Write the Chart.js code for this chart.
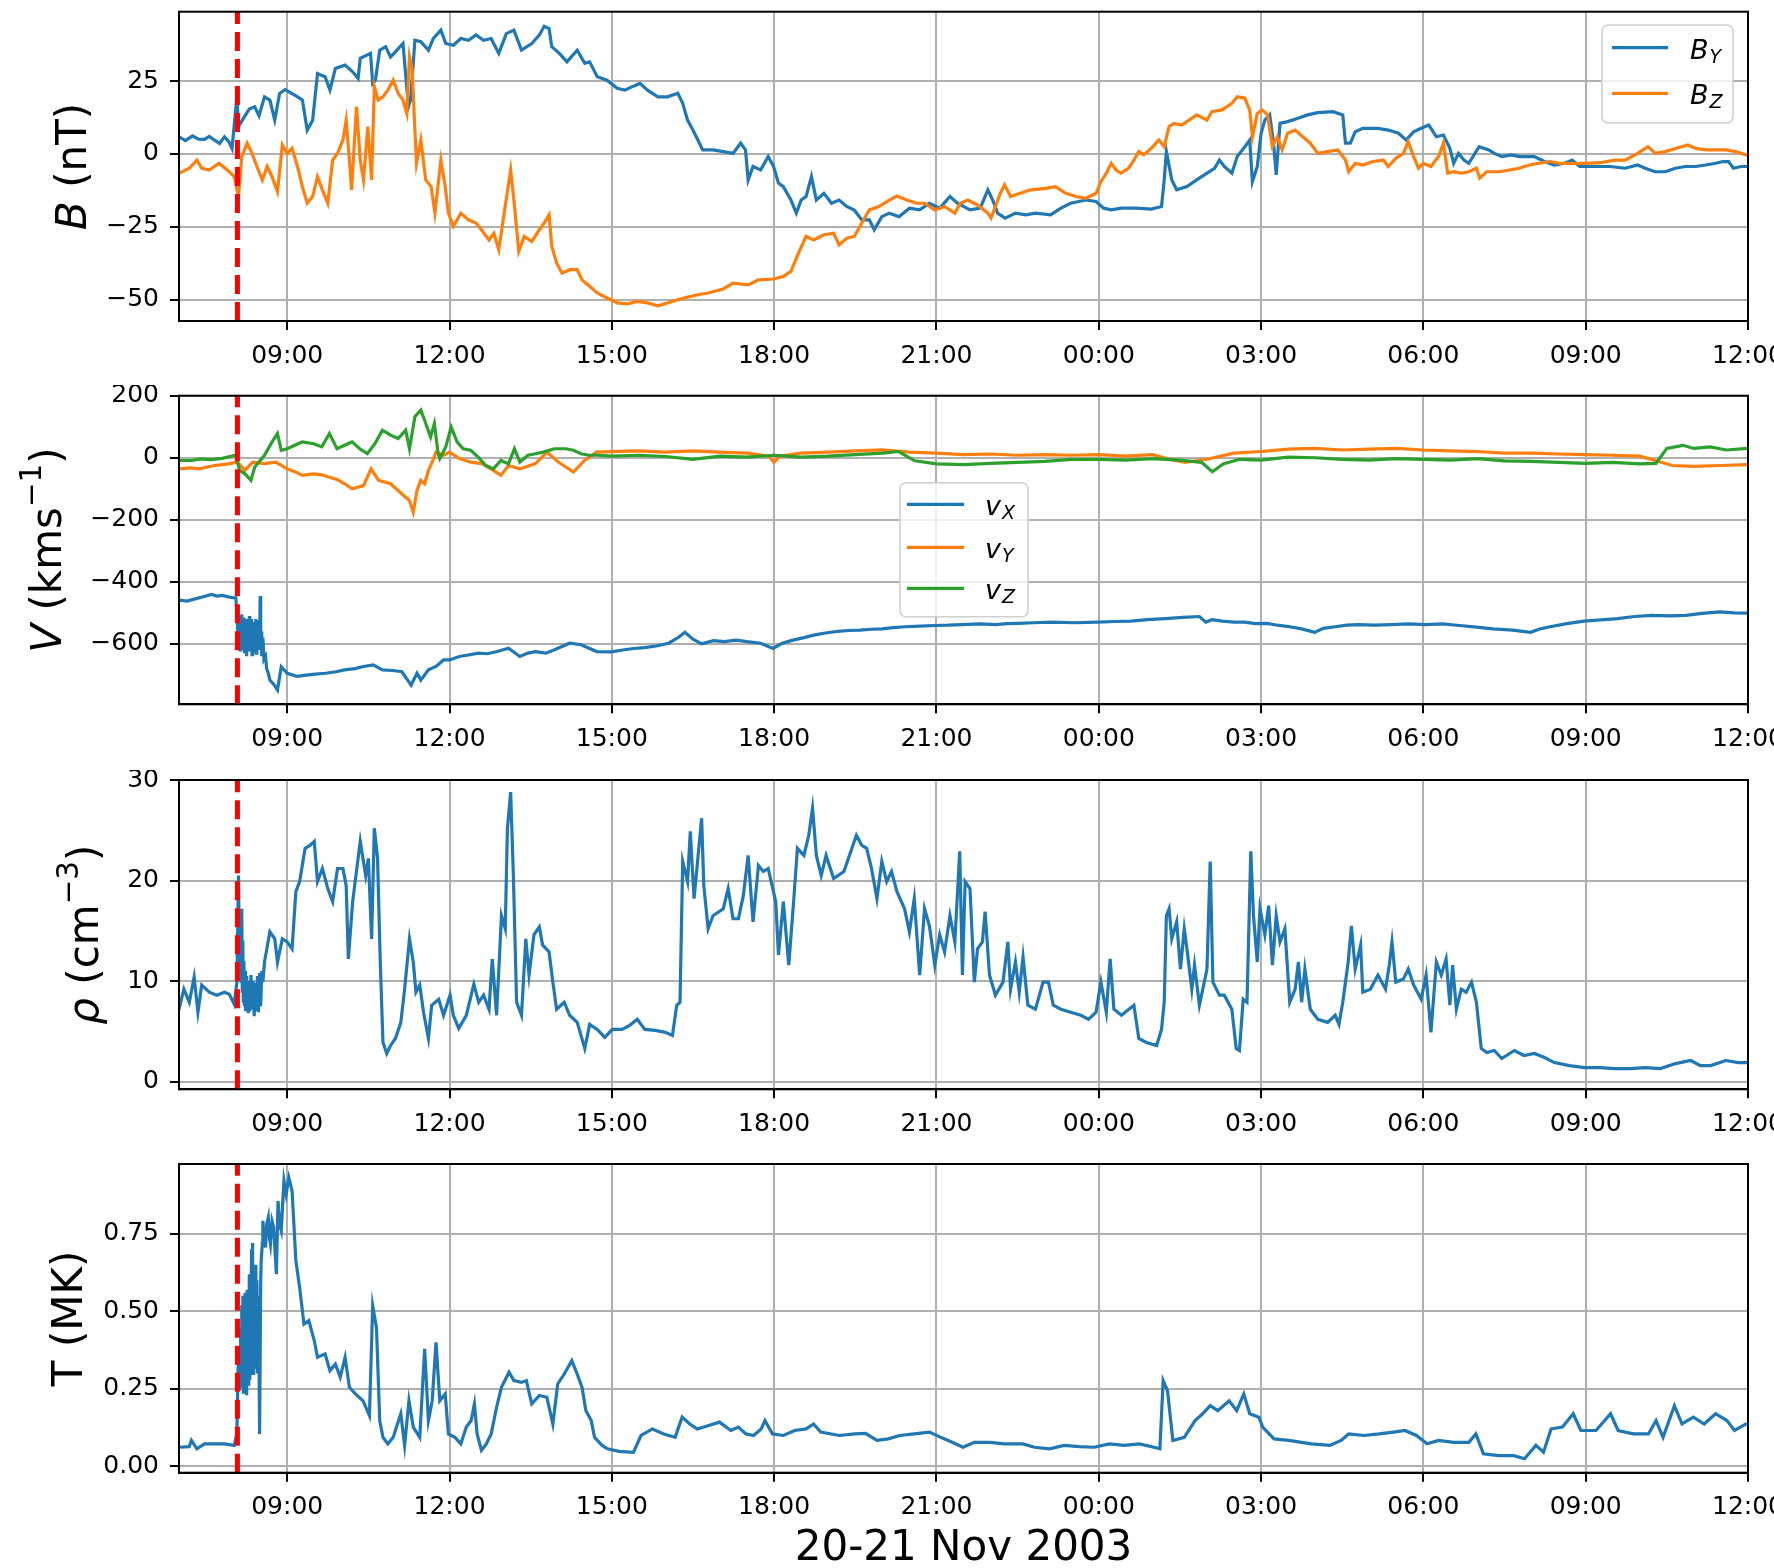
<!DOCTYPE html>
<html><head><meta charset="utf-8">
<script src="https://cdn.jsdelivr.net/npm/chart.js@4.4.1/dist/chart.umd.min.js"></script>
<style>
html,body{margin:0;padding:0;background:#fff;width:1774px;height:1568px;overflow:hidden;}
canvas{position:absolute;left:0;}
</style></head><body>
<canvas id="c1" width="1774" height="385" style="top:0px"></canvas>
<canvas id="c2" width="1774" height="385" style="top:385px"></canvas>
<canvas id="c3" width="1774" height="385" style="top:770px"></canvas>
<canvas id="c4" width="1774" height="413" style="top:1155px"></canvas>
<script>
// ---- time axis (hours since 00:00 20 Nov 2003) ----
const timeRange = [7, 36];
const tickHours = [9, 12, 15, 18, 21, 24, 27, 30, 33, 36];
const tickLabels = ['09:00','12:00','15:00','18:00','21:00','00:00','03:00','06:00','09:00','12:00'];
const shockTime = 8.08;
const xTitle = '20-21 Nov 2003';

// ---- panel 1: magnetic field (nT) ----
const bTicks = [-50, -25, 0, 25];
const bTickLabels = ['\u221250', '\u221225', '0', '25'];
const bY = [[7.00,5.9],[7.12,4.6],[7.25,6.2],[7.36,5.1],[7.47,5.0],[7.56,6.0],[7.65,4.8],[7.75,3.6],[7.84,5.9],[7.92,4.2],[7.98,1.9],[8.07,19.6],[8.10,9.4],[8.21,12.8],[8.30,15.4],[8.40,16.2],[8.48,13.1],[8.58,19.6],[8.68,18.5],[8.77,11.6],[8.86,20.8],[8.96,22.1],[9.14,20.2],[9.28,18.5],[9.37,8.2],[9.47,11.6],[9.56,27.6],[9.70,26.5],[9.79,21.9],[9.89,29.3],[10.07,30.5],[10.21,28.2],[10.31,25.9],[10.35,32.8],[10.54,34.5],[10.58,24.2],[10.63,25.3],[10.71,35.6],[10.82,36.8],[10.91,33.3],[11.00,35.0],[11.14,37.9],[11.24,16.2],[11.28,18.5],[11.36,39.0],[11.47,38.5],[11.61,35.6],[11.70,39.6],[11.84,42.5],[11.93,37.9],[12.07,37.3],[12.21,39.6],[12.35,39.0],[12.49,40.8],[12.63,39.0],[12.77,39.6],[12.91,34.5],[13.05,41.3],[13.19,42.5],[13.33,35.6],[13.52,37.9],[13.66,40.8],[13.75,43.8],[13.84,43.0],[13.89,36.8],[14.03,34.5],[14.17,31.6],[14.36,35.6],[14.50,31.1],[14.59,31.6],[14.73,26.5],[14.91,25.3],[15.10,22.5],[15.24,21.9],[15.38,23.1],[15.52,24.2],[15.66,21.9],[15.85,19.6],[16.03,19.6],[16.22,20.8],[16.31,17.4],[16.40,11.6],[16.50,8.2],[16.59,4.8],[16.68,1.4],[16.87,1.4],[17.06,0.8],[17.24,0.2],[17.38,3.7],[17.47,1.4],[17.52,-8.9],[17.61,-4.3],[17.75,-5.5],[17.89,-0.9],[17.99,-4.3],[18.08,-10.0],[18.17,-11.2],[18.31,-15.8],[18.41,-20.3],[18.50,-15.8],[18.59,-14.6],[18.69,-7.8],[18.78,-15.8],[18.92,-13.5],[19.06,-16.9],[19.20,-15.8],[19.34,-18.0],[19.48,-19.2],[19.62,-22.6],[19.76,-22.6],[19.85,-26.0],[19.99,-21.5],[20.13,-20.3],[20.31,-21.5],[20.50,-18.6],[20.69,-19.2],[20.87,-16.9],[21.06,-18.6],[21.25,-14.6],[21.39,-16.9],[21.62,-19.2],[21.81,-18.6],[21.95,-12.3],[22.04,-15.8],[22.13,-20.3],[22.27,-22.0],[22.46,-20.3],[22.65,-20.9],[22.83,-20.3],[23.11,-20.9],[23.30,-18.6],[23.48,-16.9],[23.76,-15.8],[23.95,-16.3],[24.09,-18.6],[24.23,-19.2],[24.42,-18.6],[24.69,-18.6],[24.97,-18.9],[25.16,-18.0],[25.21,-8.9],[25.25,0.8],[25.35,-8.9],[25.44,-12.3],[25.63,-11.2],[25.81,-8.9],[26.00,-6.6],[26.14,-4.9],[26.23,-2.1],[26.32,-4.3],[26.46,-6.6],[26.56,-0.9],[26.70,2.5],[26.79,4.8],[26.84,-9.5],[26.93,-4.3],[27.00,7.1],[27.07,11.6],[27.16,13.4],[27.23,3.7],[27.28,-7.2],[27.35,10.5],[27.49,11.1],[27.67,12.2],[27.86,13.4],[28.05,14.2],[28.33,14.5],[28.51,13.4],[28.56,3.7],[28.65,3.7],[28.74,7.6],[28.88,8.8],[29.16,8.8],[29.35,8.2],[29.54,7.1],[29.68,4.8],[29.82,7.6],[29.96,8.8],[30.10,9.9],[30.24,5.9],[30.37,6.5],[30.49,1.9],[30.56,-3.2],[30.65,0.2],[30.75,-2.1],[30.84,-3.2],[31.03,2.5],[31.21,1.4],[31.31,0.2],[31.45,-0.9],[31.63,-0.3],[31.77,-0.9],[32.05,-0.9],[32.24,-2.6],[32.42,-3.8],[32.61,-3.2],[32.75,-2.1],[32.89,-4.3],[33.17,-4.3],[33.45,-4.3],[33.73,-4.9],[33.96,-3.8],[34.10,-4.9],[34.28,-6.1],[34.47,-6.1],[34.66,-4.9],[34.84,-4.3],[35.03,-4.3],[35.22,-3.8],[35.40,-3.2],[35.54,-2.6],[35.64,-2.6],[35.73,-4.9],[35.87,-4.3],[36.00,-4.3]];
const bZ = [[7.00,-6.6],[7.19,-4.9],[7.33,-2.1],[7.42,-4.9],[7.56,-5.5],[7.74,-3.2],[7.93,-6.1],[8.02,-7.8],[8.10,-14.6],[8.16,-0.9],[8.26,3.7],[8.35,0.2],[8.44,-4.3],[8.54,-8.9],[8.63,-4.3],[8.72,-7.8],[8.82,-12.9],[8.91,3.1],[9.00,0.2],[9.09,1.9],[9.19,-4.3],[9.28,-11.2],[9.37,-16.9],[9.47,-14.6],[9.56,-7.8],[9.65,-12.3],[9.75,-16.9],[9.84,-2.1],[9.93,0.2],[10.03,4.8],[10.09,11.6],[10.15,-2.1],[10.19,-12.3],[10.28,16.2],[10.35,-2.1],[10.41,-8.9],[10.49,9.4],[10.56,-8.9],[10.61,23.1],[10.68,18.5],[10.77,19.6],[10.86,21.9],[10.96,25.3],[11.05,20.8],[11.14,18.5],[11.21,13.9],[11.26,33.3],[11.31,28.8],[11.36,8.2],[11.39,-3.2],[11.47,4.8],[11.56,-8.9],[11.66,-11.2],[11.73,-20.3],[11.84,-2.1],[11.92,-11.2],[11.98,-20.3],[12.07,-24.9],[12.21,-20.3],[12.35,-22.6],[12.49,-23.7],[12.59,-26.0],[12.73,-29.5],[12.82,-27.2],[12.91,-32.9],[13.01,-20.3],[13.13,-5.5],[13.19,-15.8],[13.28,-33.4],[13.38,-28.3],[13.52,-30.0],[13.66,-26.0],[13.75,-23.7],[13.84,-20.9],[13.89,-31.7],[13.98,-37.4],[14.08,-40.9],[14.22,-39.7],[14.36,-39.7],[14.45,-43.2],[14.59,-45.4],[14.73,-47.7],[14.91,-49.4],[15.10,-51.1],[15.29,-51.4],[15.47,-50.6],[15.66,-51.1],[15.85,-52.1],[16.03,-51.1],[16.22,-50.0],[16.40,-49.1],[16.59,-48.3],[16.78,-47.7],[17.06,-46.3],[17.24,-44.3],[17.52,-44.9],[17.71,-43.2],[17.99,-42.9],[18.17,-42.0],[18.31,-40.3],[18.45,-34.0],[18.59,-28.3],[18.73,-29.5],[18.92,-27.7],[19.10,-27.2],[19.20,-31.2],[19.34,-28.9],[19.48,-28.3],[19.62,-23.7],[19.76,-19.2],[19.94,-18.0],[20.13,-15.8],[20.27,-14.4],[20.45,-15.8],[20.64,-16.9],[20.78,-16.9],[20.97,-19.2],[21.15,-18.0],[21.34,-20.3],[21.44,-16.9],[21.58,-15.8],[21.76,-17.5],[21.95,-20.3],[22.01,-22.0],[22.09,-18.0],[22.18,-13.5],[22.26,-10.6],[22.37,-14.6],[22.55,-13.5],[22.74,-12.3],[23.02,-11.8],[23.20,-11.2],[23.39,-13.5],[23.58,-14.6],[23.76,-15.2],[23.95,-13.5],[24.04,-9.5],[24.14,-6.6],[24.23,-3.2],[24.32,-5.5],[24.41,-6.6],[24.55,-4.9],[24.65,-2.1],[24.74,0.8],[24.83,-0.3],[24.97,1.9],[25.11,4.8],[25.21,2.5],[25.30,9.4],[25.39,10.5],[25.53,9.9],[25.67,11.6],[25.81,13.4],[26.00,11.6],[26.09,14.5],[26.28,15.1],[26.46,17.4],[26.56,19.6],[26.70,19.1],[26.79,15.1],[26.84,5.9],[26.93,13.9],[27.02,15.1],[27.12,13.4],[27.21,2.5],[27.30,5.9],[27.39,1.4],[27.49,7.1],[27.63,8.2],[27.77,5.9],[27.91,3.7],[28.05,0.2],[28.23,0.8],[28.42,1.4],[28.56,-2.1],[28.62,-6.1],[28.74,-3.2],[28.88,-3.8],[29.07,-2.6],[29.26,-2.1],[29.35,-4.3],[29.49,-1.5],[29.63,0.2],[29.72,4.2],[29.82,-0.9],[29.91,-4.9],[30.00,-3.2],[30.14,-4.3],[30.28,-0.9],[30.37,3.7],[30.45,-6.6],[30.56,-6.1],[30.70,-6.6],[30.84,-6.1],[30.98,-4.9],[31.04,-8.3],[31.17,-6.1],[31.40,-6.1],[31.59,-5.5],[31.77,-4.9],[31.96,-3.8],[32.14,-3.2],[32.33,-2.6],[32.52,-3.2],[32.70,-3.2],[32.98,-3.2],[33.26,-3.0],[33.54,-2.1],[33.73,-2.1],[33.96,0.2],[34.15,2.5],[34.29,0.2],[34.47,0.8],[34.66,1.9],[34.89,3.1],[35.03,1.9],[35.22,1.4],[35.40,1.4],[35.59,1.4],[35.77,0.8],[35.96,-0.3],[36.00,-0.3]];

// ---- panel 2: velocity (km/s) ----
const vTicks = [-600, -400, -200, 0, 200];
const vTickLabels = ['\u2212600', '\u2212400', '\u2212200', '0', '200'];
const vX = [[7.00,-459],[7.15,-462],[7.30,-455],[7.45,-448],[7.60,-441],[7.70,-446],[7.80,-444],[7.95,-450],[8.05,-452],[8.08,-530],[8.09,-580],[8.10,-520],[8.11,-600],[8.12,-510],[8.13,-620],[8.14,-525],[8.15,-590],[8.16,-505],[8.17,-615],[8.18,-530],[8.19,-600],[8.20,-515],[8.21,-630],[8.22,-535],[8.23,-610],[8.24,-520],[8.25,-640],[8.26,-540],[8.27,-620],[8.28,-525],[8.29,-600],[8.30,-510],[8.31,-625],[8.32,-545],[8.33,-605],[8.34,-520],[8.35,-635],[8.36,-540],[8.37,-610],[8.38,-530],[8.39,-625],[8.40,-550],[8.41,-600],[8.42,-520],[8.43,-630],[8.44,-545],[8.45,-615],[8.46,-525],[8.47,-620],[8.48,-540],[8.49,-610],[8.50,-446],[8.51,-600],[8.52,-560],[8.53,-640],[8.55,-580],[8.57,-650],[8.60,-640],[8.62,-680],[8.65,-695],[8.68,-717],[8.75,-730],[8.82,-749],[8.89,-674],[9.00,-695],[9.18,-705],[9.35,-701],[9.52,-698],[9.71,-695],[9.90,-690],[10.06,-684],[10.25,-680],[10.41,-673],[10.59,-668],[10.76,-684],[10.95,-686],[11.12,-690],[11.29,-733],[11.40,-695],[11.47,-717],[11.61,-684],[11.75,-673],[11.89,-652],[12.00,-652],[12.18,-641],[12.35,-636],[12.53,-630],[12.70,-632],[12.88,-625],[13.09,-614],[13.30,-641],[13.45,-630],[13.59,-625],[13.78,-630],[13.94,-619],[14.22,-598],[14.43,-603],[14.72,-625],[14.99,-626],[15.20,-620],[15.40,-615],[15.60,-612],[15.82,-607],[16.05,-598],[16.24,-578],[16.35,-563],[16.50,-585],[16.66,-600],[16.88,-590],[17.08,-593],[17.30,-588],[17.50,-593],[17.75,-598],[17.98,-615],[18.15,-598],[18.33,-589],[18.55,-580],[18.75,-571],[18.95,-565],[19.17,-560],[19.38,-557],[19.59,-556],[19.80,-553],[20.00,-552],[20.20,-548],[20.42,-545],[20.70,-543],[20.97,-541],[21.22,-540],[21.47,-538],[21.80,-536],[22.10,-538],[22.30,-535],[22.51,-534],[22.80,-532],[23.14,-530],[23.55,-532],[23.98,-530],[24.30,-528],[24.60,-527],[24.90,-522],[25.23,-519],[25.55,-515],[25.86,-512],[25.98,-530],[26.10,-522],[26.28,-527],[26.50,-530],[26.69,-530],[26.90,-535],[27.11,-534],[27.30,-540],[27.53,-545],[27.75,-552],[27.99,-563],[28.15,-550],[28.37,-545],[28.58,-540],[28.79,-538],[29.10,-540],[29.41,-538],[29.72,-536],[30.04,-538],[30.35,-536],[30.67,-541],[30.98,-546],[31.29,-552],[31.65,-556],[31.98,-563],[32.15,-552],[32.34,-545],[32.65,-535],[32.97,-527],[33.28,-523],[33.59,-519],[33.90,-512],[34.22,-508],[34.55,-510],[34.85,-508],[35.15,-502],[35.48,-497],[35.75,-500],[36.00,-501]];
const vY = [[7.02,-36],[7.20,-33],[7.38,-36],[7.52,-30],[7.66,-25],[7.80,-22],[7.94,-19],[8.08,-14],[8.22,-41],[8.36,-14],[8.58,-19],[8.79,-14],[9.00,-36],[9.14,-45],[9.28,-57],[9.49,-52],[9.64,-55],[9.78,-63],[9.92,-70],[10.06,-84],[10.20,-100],[10.41,-90],[10.55,-36],[10.69,-73],[10.91,-84],[11.12,-117],[11.26,-138],[11.33,-176],[11.40,-105],[11.47,-73],[11.54,-84],[11.61,-41],[11.68,-14],[11.75,18],[11.89,8],[12.00,18],[12.18,-3],[12.39,-14],[12.60,-19],[12.81,-41],[12.95,-57],[13.09,-25],[13.30,-36],[13.59,-19],[13.80,18],[14.01,-14],[14.29,-46],[14.50,-8],[14.72,18],[15.0,20],[15.5,22],[16.0,18],[16.5,22],[17.0,18],[17.5,15],[17.9,5],[18.0,-15],[18.1,5],[18.5,15],[19.0,18],[19.5,22],[20.0,25],[20.5,18],[21.0,15],[21.5,10],[22.0,12],[22.5,8],[23.0,10],[23.5,8],[24.0,10],[24.5,5],[25.0,10],[25.3,-5],[25.6,-15],[26.0,-5],[26.5,15],[27.0,20],[27.5,28],[28.0,30],[28.5,25],[29.0,28],[29.5,30],[30.0,25],[30.5,22],[31.0,20],[31.5,15],[32.0,15],[32.5,12],[33.0,10],[33.5,8],[34.0,5],[34.3,-10],[34.6,-25],[35.0,-28],[35.5,-25],[36.0,-22]];
const vZ = [[7.02,-9],[7.24,-9],[7.40,-4],[7.59,-6],[7.80,-2],[7.94,4],[8.05,8],[8.12,-41],[8.22,-52],[8.33,-73],[8.40,-30],[8.58,8],[8.72,51],[8.82,78],[8.89,24],[9.00,29],[9.14,40],[9.28,51],[9.49,45],[9.64,35],[9.78,78],[9.92,29],[10.06,40],[10.20,51],[10.34,29],[10.48,13],[10.62,45],[10.76,89],[10.91,73],[11.05,62],[11.19,89],[11.26,29],[11.36,132],[11.47,154],[11.54,121],[11.65,67],[11.72,110],[11.79,13],[11.82,-3],[11.93,35],[12.03,99],[12.14,51],[12.25,29],[12.39,24],[12.53,2],[12.67,-25],[12.81,-36],[12.95,-9],[13.09,-20],[13.20,29],[13.30,-14],[13.45,8],[13.59,13],[13.73,18],[13.94,29],[14.15,29],[14.29,24],[14.43,13],[14.58,8],[14.72,8],[15.0,5],[15.5,8],[16.0,4],[16.5,-5],[17.0,5],[17.5,2],[18.0,8],[18.5,2],[19.0,5],[19.5,10],[20.0,15],[20.3,20],[20.6,-10],[21.0,-20],[21.5,-22],[22.0,-18],[22.5,-15],[23.0,-12],[23.5,-5],[24.0,-5],[24.5,-8],[25.0,-3],[25.5,-8],[25.9,-15],[26.1,-45],[26.3,-20],[26.6,-5],[27.0,-8],[27.5,2],[28.0,0],[28.5,-5],[29.0,-8],[29.5,-3],[30.0,-5],[30.5,-8],[31.0,-3],[31.5,-10],[32.0,-12],[32.5,-15],[33.0,-18],[33.5,-15],[34.0,-20],[34.3,-18],[34.5,30],[34.8,40],[35.0,30],[35.3,35],[35.6,25],[36.0,30]];

// ---- panel 3: density (cm^-3) ----
const rhoTicks = [0, 10, 20, 30];
const rhoTickLabels = ['0', '10', '20', '30'];
const rho = [[7.00,7.2],[7.09,9.2],[7.19,7.9],[7.28,10.4],[7.35,6.9],[7.42,9.6],[7.56,8.9],[7.70,8.6],[7.84,8.9],[7.93,8.7],[8.02,7.7],[8.07,9.9],[8.10,20.5],[8.11,15.0],[8.12,17.0],[8.13,12.0],[8.14,16.5],[8.15,10.0],[8.16,17.2],[8.17,9.0],[8.18,14.0],[8.19,8.0],[8.20,12.0],[8.21,7.5],[8.22,11.0],[8.23,7.0],[8.24,10.5],[8.25,7.5],[8.27,10.0],[8.28,6.8],[8.30,9.5],[8.31,7.0],[8.33,10.6],[8.35,7.2],[8.37,10.0],[8.39,6.5],[8.41,9.8],[8.43,7.0],[8.45,10.5],[8.47,6.9],[8.49,10.8],[8.51,7.5],[8.53,11.0],[8.55,9.9],[8.58,11.9],[8.68,14.9],[8.77,14.2],[8.82,11.9],[8.91,14.2],[9.00,13.9],[9.09,13.2],[9.16,18.9],[9.23,19.9],[9.33,23.2],[9.42,23.5],[9.50,23.9],[9.56,19.9],[9.65,21.2],[9.75,19.2],[9.84,17.9],[9.93,21.2],[10.03,21.2],[10.09,19.5],[10.13,12.2],[10.21,17.9],[10.31,22.2],[10.35,23.9],[10.45,20.5],[10.50,22.2],[10.56,14.2],[10.61,25.2],[10.67,22.2],[10.72,11.9],[10.77,3.9],[10.84,2.8],[10.91,3.6],[11.00,4.3],[11.10,5.9],[11.17,9.2],[11.26,14.2],[11.33,11.9],[11.38,8.9],[11.45,9.6],[11.52,6.9],[11.61,4.3],[11.67,7.6],[11.80,8.2],[11.89,6.6],[12.01,8.6],[12.07,6.6],[12.17,5.3],[12.31,6.6],[12.45,9.7],[12.54,7.9],[12.63,8.6],[12.73,7.2],[12.79,12.2],[12.87,6.6],[12.96,16.5],[13.03,15.2],[13.07,25.2],[13.13,28.8],[13.18,20.5],[13.24,7.9],[13.33,6.6],[13.41,14.2],[13.47,10.6],[13.56,14.6],[13.66,15.4],[13.72,13.6],[13.84,12.9],[13.91,9.9],[13.98,7.2],[14.12,7.9],[14.22,6.6],[14.36,5.9],[14.50,3.3],[14.59,5.7],[14.73,5.2],[14.87,4.4],[15.01,5.2],[15.19,5.2],[15.33,5.6],[15.47,6.2],[15.61,5.2],[15.80,5.1],[15.99,4.9],[16.12,4.6],[16.20,7.6],[16.26,7.9],[16.31,21.9],[16.40,19.9],[16.45,24.9],[16.52,18.2],[16.59,22.2],[16.66,26.2],[16.70,19.5],[16.78,15.2],[16.87,16.5],[17.06,17.2],[17.15,19.2],[17.24,16.2],[17.34,16.2],[17.43,18.5],[17.52,22.5],[17.61,15.9],[17.71,21.5],[17.80,20.9],[17.89,21.2],[18.03,17.9],[18.08,12.6],[18.17,17.9],[18.27,11.6],[18.36,17.9],[18.43,23.2],[18.55,22.5],[18.64,24.5],[18.71,27.2],[18.78,22.5],[18.87,20.5],[18.96,22.5],[19.10,20.2],[19.29,20.9],[19.52,24.5],[19.62,23.5],[19.71,23.2],[19.80,21.2],[19.90,18.2],[19.99,21.9],[20.08,19.9],[20.17,20.9],[20.27,18.9],[20.41,17.2],[20.50,14.9],[20.59,18.2],[20.69,10.6],[20.78,17.2],[20.87,15.5],[20.97,11.6],[21.06,14.6],[21.15,12.9],[21.25,16.5],[21.34,13.9],[21.43,22.9],[21.48,10.6],[21.53,19.9],[21.62,19.2],[21.70,9.9],[21.76,13.2],[21.85,13.9],[21.90,16.9],[21.98,10.6],[22.09,8.6],[22.23,9.9],[22.32,13.9],[22.37,9.2],[22.46,11.9],[22.53,8.9],[22.60,12.4],[22.69,7.6],[22.83,7.2],[22.97,9.9],[23.07,9.9],[23.16,7.6],[23.30,7.2],[23.48,6.9],[23.67,6.6],[23.81,6.2],[23.95,6.9],[24.04,9.9],[24.14,6.9],[24.21,12.2],[24.28,7.2],[24.42,6.6],[24.65,7.6],[24.74,4.3],[24.88,3.9],[25.07,3.6],[25.16,5.2],[25.21,7.9],[25.25,16.5],[25.30,17.2],[25.35,14.2],[25.44,15.9],[25.51,11.2],[25.58,15.2],[25.63,13.2],[25.72,9.2],[25.77,11.6],[25.86,7.6],[25.95,9.9],[26.00,11.2],[26.06,21.9],[26.11,9.9],[26.23,8.6],[26.32,8.6],[26.46,7.2],[26.54,3.3],[26.60,3.1],[26.67,8.2],[26.74,7.9],[26.81,22.9],[26.86,16.5],[26.93,11.9],[26.98,17.2],[27.07,14.6],[27.14,17.5],[27.21,11.6],[27.28,16.5],[27.35,13.9],[27.44,15.2],[27.53,7.9],[27.63,9.2],[27.69,11.9],[27.75,7.9],[27.81,11.2],[27.91,7.2],[28.05,6.2],[28.23,5.9],[28.37,6.6],[28.44,5.7],[28.51,7.9],[28.61,11.9],[28.67,15.5],[28.74,11.2],[28.84,13.6],[28.88,8.9],[29.02,9.2],[29.16,10.6],[29.30,9.2],[29.37,11.6],[29.42,13.9],[29.49,9.9],[29.63,10.2],[29.72,11.2],[29.82,9.6],[29.96,8.2],[30.05,10.6],[30.14,4.9],[30.24,11.9],[30.33,10.6],[30.42,12.2],[30.49,7.6],[30.54,11.6],[30.61,7.2],[30.70,9.2],[30.79,8.9],[30.89,9.9],[30.98,7.9],[31.07,3.3],[31.17,2.9],[31.31,3.1],[31.45,2.3],[31.68,3.1],[31.86,2.6],[32.05,2.8],[32.24,2.4],[32.42,1.9],[32.70,1.6],[32.98,1.4],[33.26,1.4],[33.54,1.3],[33.82,1.3],[34.10,1.4],[34.38,1.3],[34.66,1.8],[34.94,2.1],[35.12,1.6],[35.31,1.6],[35.59,2.1],[35.82,1.9],[36.00,1.9]];

// ---- panel 4: temperature (MK) ----
const tTicks = [0, 0.25, 0.5, 0.75];
const tTickLabels = ['0.00', '0.25', '0.50', '0.75'];
const temp = [[7.00,0.062],[7.19,0.064],[7.23,0.084],[7.33,0.057],[7.47,0.073],[7.65,0.073],[7.84,0.073],[8.02,0.068],[8.07,0.105],[8.09,0.30],[8.10,0.36],[8.11,0.25],[8.12,0.38],[8.13,0.27],[8.14,0.45],[8.15,0.26],[8.16,0.52],[8.17,0.28],[8.18,0.55],[8.19,0.24],[8.20,0.50],[8.21,0.30],[8.22,0.56],[8.23,0.25],[8.24,0.48],[8.25,0.23],[8.26,0.57],[8.27,0.30],[8.28,0.55],[8.29,0.26],[8.30,0.62],[8.31,0.28],[8.32,0.60],[8.33,0.30],[8.34,0.70],[8.35,0.35],[8.36,0.72],[8.37,0.30],[8.38,0.60],[8.39,0.35],[8.40,0.65],[8.41,0.38],[8.42,0.65],[8.43,0.32],[8.44,0.60],[8.45,0.30],[8.47,0.55],[8.49,0.105],[8.51,0.60],[8.52,0.663],[8.54,0.72],[8.55,0.792],[8.57,0.74],[8.60,0.706],[8.62,0.78],[8.65,0.803],[8.67,0.74],[8.69,0.717],[8.72,0.79],[8.75,0.770],[8.80,0.620],[8.83,0.856],[8.86,0.78],[8.89,0.760],[8.94,0.921],[8.98,0.878],[9.03,0.931],[9.09,0.888],[9.16,0.663],[9.23,0.577],[9.31,0.459],[9.40,0.470],[9.50,0.406],[9.56,0.352],[9.70,0.363],[9.79,0.309],[9.89,0.330],[9.98,0.288],[10.07,0.352],[10.15,0.255],[10.26,0.234],[10.40,0.212],[10.52,0.164],[10.58,0.518],[10.65,0.448],[10.71,0.148],[10.77,0.094],[10.86,0.073],[10.96,0.094],[11.02,0.127],[11.10,0.170],[11.17,0.068],[11.25,0.212],[11.33,0.127],[11.45,0.094],[11.54,0.379],[11.61,0.148],[11.68,0.212],[11.75,0.400],[11.82,0.212],[11.92,0.234],[11.98,0.105],[12.10,0.094],[12.21,0.073],[12.31,0.127],[12.40,0.148],[12.46,0.202],[12.51,0.105],[12.59,0.052],[12.68,0.073],[12.77,0.105],[12.87,0.191],[12.96,0.255],[13.10,0.304],[13.19,0.277],[13.33,0.271],[13.42,0.277],[13.52,0.202],[13.66,0.229],[13.80,0.223],[13.91,0.137],[14.00,0.266],[14.12,0.298],[14.26,0.341],[14.36,0.298],[14.45,0.255],[14.52,0.180],[14.62,0.148],[14.68,0.094],[14.82,0.068],[14.92,0.057],[15.13,0.049],[15.40,0.046],[15.54,0.100],[15.75,0.121],[15.96,0.105],[16.17,0.094],[16.30,0.159],[16.44,0.137],[16.58,0.121],[16.79,0.132],[16.99,0.143],[17.20,0.116],[17.34,0.127],[17.48,0.105],[17.62,0.100],[17.76,0.121],[17.83,0.148],[17.97,0.105],[18.17,0.100],[18.38,0.116],[18.59,0.121],[18.73,0.137],[18.86,0.111],[19.21,0.100],[19.49,0.105],[19.69,0.107],[19.90,0.084],[20.11,0.089],[20.32,0.100],[20.59,0.105],[20.87,0.111],[21.08,0.094],[21.29,0.078],[21.49,0.062],[21.70,0.078],[21.98,0.078],[22.26,0.073],[22.60,0.073],[22.81,0.062],[23.09,0.057],[23.36,0.068],[23.64,0.064],[23.92,0.062],[24.19,0.073],[24.47,0.068],[24.75,0.073],[25.02,0.062],[25.13,0.057],[25.19,0.277],[25.27,0.245],[25.37,0.084],[25.58,0.094],[25.78,0.148],[25.92,0.170],[26.06,0.196],[26.20,0.180],[26.41,0.212],[26.55,0.180],[26.68,0.234],[26.79,0.170],[26.96,0.159],[27.03,0.127],[27.24,0.089],[27.51,0.084],[27.93,0.073],[28.27,0.068],[28.48,0.084],[28.62,0.105],[28.90,0.100],[29.18,0.105],[29.45,0.111],[29.66,0.116],[29.87,0.100],[30.07,0.073],[30.28,0.084],[30.56,0.078],[30.84,0.078],[30.97,0.105],[31.11,0.041],[31.39,0.035],[31.67,0.035],[31.87,0.025],[32.08,0.068],[32.22,0.046],[32.36,0.121],[32.57,0.127],[32.77,0.170],[32.91,0.116],[33.19,0.116],[33.46,0.170],[33.60,0.116],[33.88,0.105],[34.16,0.105],[34.30,0.148],[34.43,0.094],[34.64,0.196],[34.78,0.137],[34.99,0.159],[35.19,0.137],[35.40,0.170],[35.61,0.148],[35.75,0.116],[35.96,0.137],[36.00,0.137]];

// ---- colours ----
const C_BLUE = '#1f77b4', C_ORANGE = '#ff7f0e', C_GREEN = '#2ca02c';
const FONT = 'DejaVu Sans';
Chart.defaults.font.family = FONT;
Chart.defaults.color = '#000';

function toXY(arr) { return arr.map(p => ({x: p[0], y: p[1]})); }

function measureRich(ctx, segs, size) {
  let w = 0;
  for (const s of segs) {
    const fs = s.sup ? size * 0.7 : size;
    ctx.font = (s.it ? 'italic ' : '') + fs + 'px "' + FONT + '"';
    s._w = ctx.measureText(s.t).width;
    w += s._w;
  }
  return w;
}

function makePanel(cfg) {
  const panelPlugin = {
    id: 'panel_' + cfg.id,
    afterDatasetsDraw(chart) {
      const ctx = chart.ctx, a = chart.chartArea;
      const x = chart.scales.x.getPixelForValue(shockTime);
      ctx.save();
      ctx.beginPath();
      ctx.rect(a.left, a.top, a.right - a.left, a.bottom - a.top);
      ctx.clip();
      ctx.strokeStyle = '#ff0000';
      ctx.lineWidth = 5;
      ctx.setLineDash([19, 8]);
      ctx.beginPath();
      ctx.moveTo(x, a.bottom);
      ctx.lineTo(x, a.top);
      ctx.stroke();
      ctx.restore();
      ctx.save();
      ctx.strokeStyle = '#000';
      ctx.lineWidth = 2;
      ctx.strokeRect(a.left, a.top, a.right - a.left, a.bottom - a.top);
      ctx.restore();
      if (cfg.legend) {
        const L = cfg.legend;
        ctx.save();
        ctx.beginPath();
        ctx.roundRect(L.x, L.y, L.w, L.h, 6);
        ctx.fillStyle = 'rgba(255,255,255,0.8)';
        ctx.fill();
        ctx.strokeStyle = '#d0d0d0';
        ctx.lineWidth = 1.6;
        ctx.stroke();
        L.items.forEach((it, i) => {
          const ly = L.rows[i];
          ctx.strokeStyle = it.color;
          ctx.lineWidth = 3.2;
          ctx.beginPath();
          ctx.moveTo(L.lx1, ly); ctx.lineTo(L.lx2, ly); ctx.stroke();
          ctx.fillStyle = '#000';
          ctx.textBaseline = 'alphabetic';
          ctx.textAlign = 'left';
          ctx.font = 'italic 27px "' + FONT + '"';
          ctx.fillText(it.main, L.tx, ly + 11);
          const mw = ctx.measureText(it.main).width;
          ctx.font = 'italic 19px "' + FONT + '"';
          ctx.fillText(it.sub, L.tx + mw + 1, ly + 15);
        });
        ctx.restore();
      }
    },
    afterDraw(chart) {
      const ctx = chart.ctx, a = chart.chartArea;
      const size = 42;
      const segs = cfg.ylabel.map(s => Object.assign({}, s));
      const W = measureRich(ctx, segs, size);
      ctx.save();
      ctx.translate(cfg.ylabelX, (a.top + a.bottom) / 2);
      ctx.rotate(-Math.PI / 2);
      ctx.fillStyle = '#000';
      ctx.textBaseline = 'alphabetic';
      ctx.textAlign = 'left';
      let cx = -W / 2;
      for (const s of segs) {
        const fs = s.sup ? size * 0.7 : size;
        ctx.font = (s.it ? 'italic ' : '') + fs + 'px "' + FONT + '"';
        ctx.fillText(s.t, cx, s.sup ? -size * 0.47 : 0);
        cx += s._w;
      }
      ctx.restore();
      if (cfg.xlabel) {
        ctx.save();
        ctx.fillStyle = '#000';
        ctx.font = '42px "' + FONT + '"';
        ctx.textAlign = 'center';
        ctx.textBaseline = 'alphabetic';
        ctx.fillText(cfg.xlabel, (a.left + a.right) / 2, cfg.xlabelY);
        ctx.restore();
      }
    }
  };

  return new Chart(document.getElementById(cfg.id), {
    type: 'line',
    data: { datasets: cfg.datasets.map(d => ({
      data: toXY(d.data), borderColor: d.color, backgroundColor: d.color,
      borderWidth: 3.2, pointRadius: 0, tension: 0, fill: false, order: d.order
    })) },
    options: {
      responsive: false, animation: false, devicePixelRatio: 1,
      events: [],
      layout: { padding: { top: cfg.padTop, right: 26, left: 0, bottom: 0 } },
      plugins: { legend: { display: false }, tooltip: { enabled: false } },
      scales: {
        x: {
          type: 'linear', min: timeRange[0], max: timeRange[1],
          afterBuildTicks(s) { s.ticks = tickHours.map(v => ({ value: v })); },
          afterFit(s) { s.height = cfg.xH; s.paddingLeft = 0; s.paddingRight = 0; },
          ticks: { autoSkip: false, maxRotation: 0, minRotation: 0, padding: 11,
                   font: { size: 25, family: FONT }, color: '#000',
                   callback: (v, i) => tickLabels[i] },
          grid: { color: '#b0b0b0', lineWidth: 2, tickColor: '#000', tickLength: 9, tickWidth: 2 },
          border: { display: true, color: '#000', width: 2 }
        },
        y: {
          type: 'linear', min: cfg.yMin, max: cfg.yMax,
          afterBuildTicks(s) { s.ticks = cfg.yTicks.map(v => ({ value: v })); },
          afterFit(s) { s.width = 179; s.paddingTop = 0; s.paddingBottom = 0; },
          ticks: { autoSkip: false, padding: 11, font: { size: 25, family: FONT }, color: '#000',
                   callback: (v, i) => cfg.yTickLabels[i] },
          grid: { color: '#b0b0b0', lineWidth: 2, tickColor: '#000', tickLength: 9, tickWidth: 2 },
          border: { display: true, color: '#000', width: 2 }
        }
      }
    },
    plugins: [panelPlugin]
  });
}

makePanel({
  id: 'c1', padTop: 11.7, xH: 64, yMin: -57.3, yMax: 48.8,
  yTicks: bTicks, yTickLabels: bTickLabels, ylabelX: 86,
  ylabel: [{ t: 'B', it: true }, { t: ' (nT)' }],
  datasets: [{ data: bY, color: C_BLUE, order: 2 }, { data: bZ, color: C_ORANGE, order: 1 }],
  legend: { x: 1602, y: 25, w: 131, h: 98, rows: [47.7, 93.3], lx1: 1612, lx2: 1668, tx: 1690,
            items: [{ color: C_BLUE, main: 'B', sub: 'Y' }, { color: C_ORANGE, main: 'B', sub: 'Z' }] }
});
makePanel({
  id: 'c2', padTop: 10.7, xH: 65.7, yMin: -795, yMax: 200,
  yTicks: vTicks, yTickLabels: vTickLabels, ylabelX: 61,
  ylabel: [{ t: 'V', it: true }, { t: ' (kms' }, { t: '\u22121', sup: true }, { t: ')' }],
  datasets: [{ data: vX, color: C_BLUE, order: 3 }, { data: vY, color: C_ORANGE, order: 2 }, { data: vZ, color: C_GREEN, order: 1 }],
  legend: { x: 900, y: 97.7, w: 128, h: 134, rows: [119.3, 162.3, 203.3], lx1: 907, lx2: 964, tx: 985,
            items: [{ color: C_BLUE, main: 'v', sub: 'X' }, { color: C_ORANGE, main: 'v', sub: 'Y' }, { color: C_GREEN, main: 'v', sub: 'Z' }] }
});
makePanel({
  id: 'c3', padTop: 10, xH: 65.7, yMin: -0.76, yMax: 30,
  yTicks: rhoTicks, yTickLabels: rhoTickLabels, ylabelX: 98,
  ylabel: [{ t: '\u03c1', it: true }, { t: ' (cm' }, { t: '\u22123', sup: true }, { t: ')' }],
  datasets: [{ data: rho, color: C_BLUE, order: 1 }]
});
makePanel({
  id: 'c4', padTop: 9, xH: 95.3, yMin: -0.02, yMax: 0.975,
  yTicks: tTicks, yTickLabels: tTickLabels, ylabelX: 82,
  ylabel: [{ t: 'T (MK)' }],
  datasets: [{ data: temp, color: C_BLUE, order: 1 }],
  xlabel: xTitle, xlabelY: 405
});
</script>
</body></html>
